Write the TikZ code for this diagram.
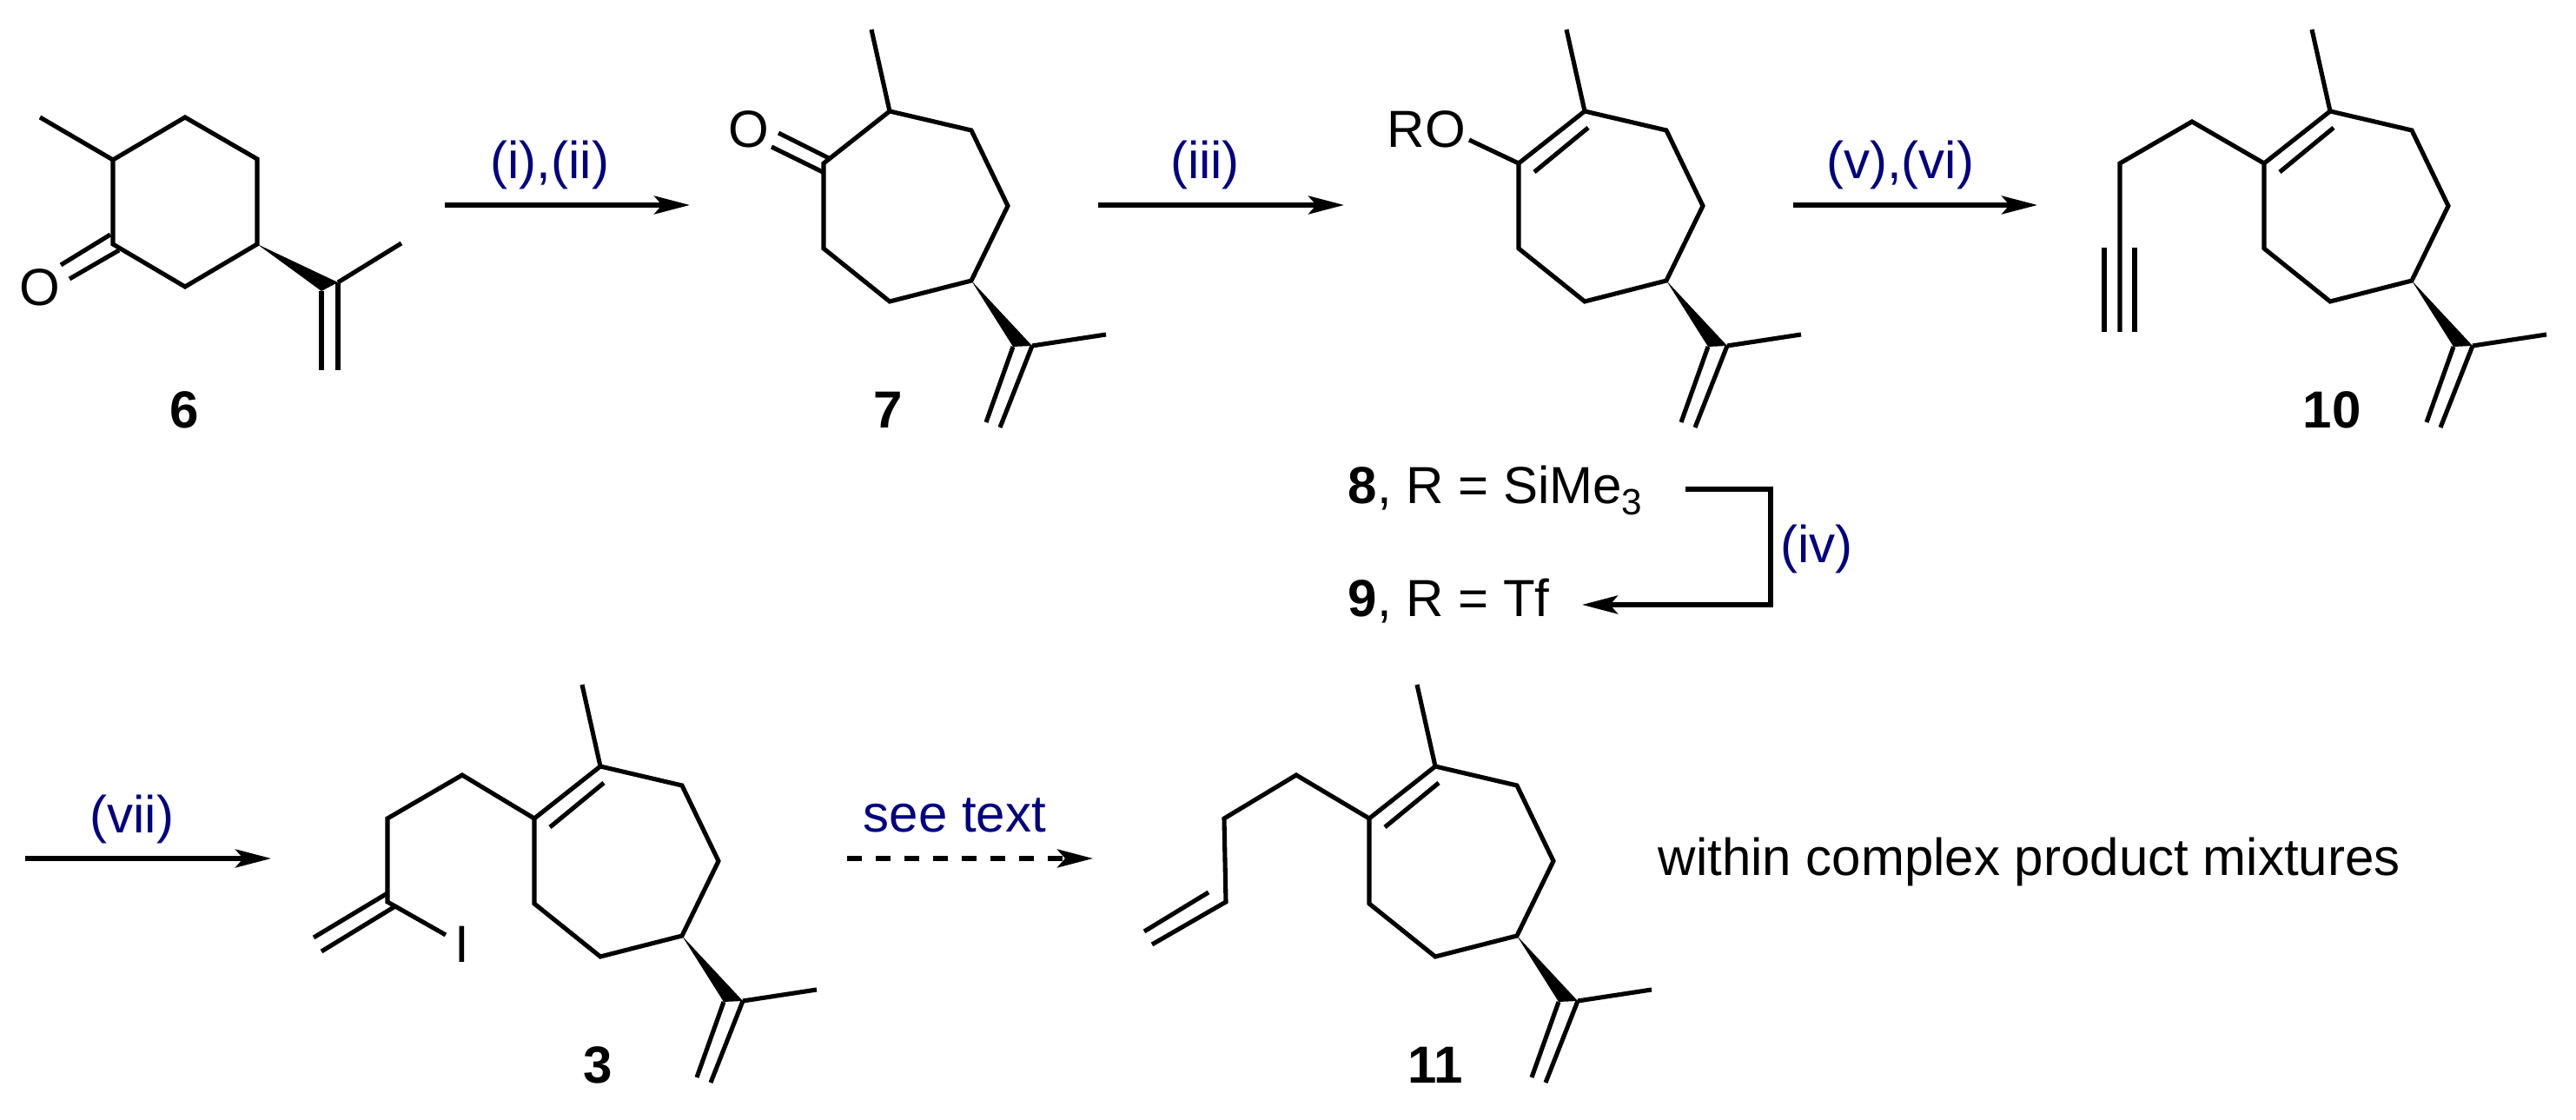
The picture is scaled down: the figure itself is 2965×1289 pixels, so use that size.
\documentclass[tikz,border=0pt]{standalone}
\usepackage{fontspec}
\setmainfont{Liberation Sans}
\usepackage{tikz}
\usetikzlibrary{arrows.meta}
\definecolor{reagent}{RGB}{0,0,128}
\newcommand{\labelsize}{\fontsize{17.07}{20}\selectfont}
\tikzset{bond/.style={draw,line width=1.45pt}}
\tikzset{rxnarrow/.style={draw,line width=1.5pt,-{Stealth[length=0.41cm,width=0.21cm,inset=0.09cm]}}}
\tikzset{atomlabel/.style={font=\labelsize,inner sep=0pt,anchor=base}}
\tikzset{reagents/.style={atomlabel,text=reagent}}
\tikzset{compound/.style={atomlabel,font=\labelsize\bfseries}}
\newcommand{\heptring}{%
        \coordinate (a) at (0,0);
        \coordinate (b) at (76,-60);
        \coordinate (me) at (55,-154);
        \coordinate (c) at (170,-38);
        \coordinate (d) at (212,49);
        \coordinate (e) at (170,135);
        \coordinate (f) at (76,159);
        \coordinate (g) at (0,98);
        \coordinate (w1) at (218,211);
        \coordinate (w2) at (240,210);
        \coordinate (me2) at (325,197);
        \coordinate (end1) at (187,298);
        \coordinate (end2) at (203,304);
        \draw[bond] (me) -- (b);
        \draw[bond] (a) -- (b) -- (c) -- (d) -- (e) -- (f) -- (g) -- cycle;
        \fill (e) -- (w1) -- (w2) -- cycle;
        \draw[bond] (w2) -- (me2);
        \draw[bond] (w1) -- (end1);
        \draw[bond] (w2) -- (end2);
}
\newcommand{\ringdouble}{%
        \coordinate (in1) at (18,10);
        \coordinate (in2) at (80,-41);
        \draw[bond] (in1) -- (in2);
}

\begin{document}
\begin{tikzpicture}[x=0.01cm,y=-0.01cm]
        \useasboundingbox (0,0) rectangle (2965,1289);
        \coordinate (m6) at (46,135);
        \coordinate (c2) at (130,184);
        \coordinate (c3) at (213,135);
        \coordinate (c4) at (296,183);
        \coordinate (c5) at (296,281);
        \coordinate (c6) at (213,330);
        \coordinate (c1) at (130,281);
        \coordinate (w6a) at (370,335);
        \coordinate (w6b) at (389,325);
        \coordinate (m6b) at (462,280);
        \coordinate (v6a) at (370,426);
        \coordinate (v6b) at (389,426);
        \coordinate (o6a) at (127,270);
        \coordinate (o6b) at (70,305);
        \coordinate (o6c) at (137,288);
        \coordinate (o6d) at (80,321);
        \draw[bond] (m6) -- (c2);
        \draw[bond] (c1) -- (c2) -- (c3) -- (c4) -- (c5) -- (c6) -- cycle;
        \draw[bond] (o6a) -- (o6b);
        \draw[bond] (o6c) -- (o6d);
        \fill (c5) -- (w6a) -- (w6b) -- cycle;
        \draw[bond] (w6b) -- (m6b);
        \draw[bond] (w6a) -- (v6a);
        \draw[bond] (w6b) -- (v6b);
        \node[atomlabel] (o6) at (46,352) {O};
        \node[compound] (n6) at (212,493) {6};

        \coordinate (s1) at (512,236);
        \coordinate (t1) at (794,236);
            \path[rxnarrow] (s1) -- (t1);
        \node[reagents] (r1) at (633,206) {(i),(ii)};

        \begin{scope}[shift={(948,188)}]
            \heptring
            \coordinate (o7a) at (8,-5);
            \coordinate (o7b) at (-52,-35);
            \coordinate (o7c) at (-1,10);
            \coordinate (o7d) at (-60,-19);
            \draw[bond] (o7a) -- (o7b);
            \draw[bond] (o7c) -- (o7d);
            \node[atomlabel] (o7) at (-86,-18) {O};
            \node[compound] (n7) at (74,305) {7};
        \end{scope}

        \coordinate (s2) at (1264,236);
        \coordinate (t2) at (1547,236);
            \path[rxnarrow] (s2) -- (t2);
        \node[reagents] (r2) at (1387,206) {(iii)};

        \begin{scope}[shift={(1748,188)}]
            \heptring
            \ringdouble
            \coordinate (ro8) at (-57,-27);
            \draw[bond] (ro8) -- (a);
            \node[atomlabel] (ro) at (-106,-18) {RO};
        \end{scope}

        \coordinate (s3) at (2064,236);
        \coordinate (t3) at (2345,236);
            \path[rxnarrow] (s3) -- (t3);
        \node[reagents] (r3) at (2187,206) {(v),(vi)};

        \begin{scope}[shift={(2606,188)}]
            \heptring
            \ringdouble
            \coordinate (ch1) at (-83,-48);
            \coordinate (ch2) at (-166,0);
            \coordinate (ch3) at (-166,194);
            \coordinate (tr1) at (-184,97);
            \coordinate (tr2) at (-184,194);
            \coordinate (tr3) at (-149,97);
            \coordinate (tr4) at (-149,194);
            \draw[bond] (a) -- (ch1) -- (ch2) -- (ch3);
            \draw[bond] (tr1) -- (tr2);
            \draw[bond] (tr3) -- (tr4);
            \node[compound] (n10) at (78,305) {10};
        \end{scope}

        \node[atomlabel,anchor=base west] (n8) at (1551,580) {\textbf{8}, R = SiMe\raisebox{-3.7pt}{\fontsize{12}{12}\selectfont 3}};
        \node[atomlabel,anchor=base west] (n9) at (1551,710) {\textbf{9}, R = Tf};
        \coordinate (s4) at (1940,563);
        \coordinate (k4) at (2038,563);
        \coordinate (k5) at (2038,696);
        \coordinate (t4) at (1821,696);
            \path[rxnarrow,line join=miter] (s4) -- (k4) -- (k5) -- (t4);
        \node[reagents] (r4) at (2091,648) {(iv)};

        \coordinate (s5) at (29,988);
        \coordinate (t5) at (312,988);
            \path[rxnarrow] (s5) -- (t5);
        \node[reagents] (r5) at (152,959) {(vii)};

        \begin{scope}[shift={(615,942)}]
            \heptring
            \ringdouble
            \coordinate (ch1) at (-83,-50);
            \coordinate (ch2) at (-169,0);
            \coordinate (ch3) at (-169,96);
            \coordinate (ibond) at (-102,134);
            \coordinate (vin1) at (-169,86);
            \coordinate (vin2) at (-254,137);
            \coordinate (vin3) at (-160,101);
            \coordinate (vin4) at (-245,153);
            \draw[bond] (a) -- (ch1) -- (ch2) -- (ch3) -- (ibond);
            \draw[bond] (vin1) -- (vin2);
            \draw[bond] (vin3) -- (vin4);
            \node[atomlabel] (iodo) at (-83,166) {I};
            \node[compound] (n3) at (73,305) {3};
        \end{scope}

        \coordinate (s6) at (975,988);
        \coordinate (t6) at (1258,988);
            \path[rxnarrow,dash pattern=on 0.17cm off 0.16cm] (s6) -- (t6);
        \node[reagents] (r6) at (1099,958) {see text};

        \begin{scope}[shift={(1576,942)}]
            \heptring
            \ringdouble
            \coordinate (ch1) at (-84,-50);
            \coordinate (ch2) at (-167,0);
            \coordinate (ch3) at (-165,96);
            \coordinate (ch4) at (-250,145);
            \coordinate (vin1) at (-185,85);
            \coordinate (vin2) at (-259,130);
            \draw[bond] (a) -- (ch1) -- (ch2) -- (ch3) -- (ch4);
            \draw[bond] (vin1) -- (vin2);
            \node[compound] (n11) at (76,305) {11};
        \end{scope}

        \node[atomlabel,anchor=base west] (note) at (1908,1008) {within complex product mixtures};
    \end{tikzpicture}
\end{document}
